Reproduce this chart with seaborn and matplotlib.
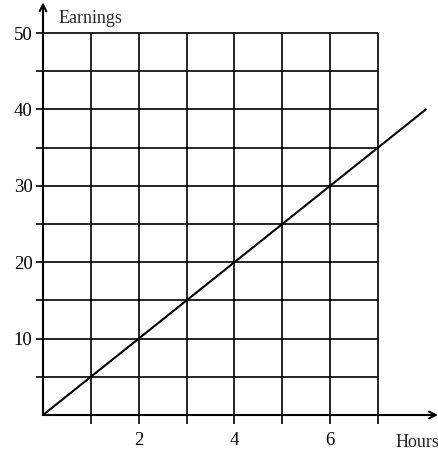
import numpy as np
import pandas as pd
import matplotlib
matplotlib.use("Agg")
import matplotlib.pyplot as plt
import seaborn as sns

# --------------------------------------------------------------
# Data
# --------------------------------------------------------------
hours = [0, 8]
earnings = [0, 40]
x_ticks = [1, 2, 3, 4, 5, 6, 7]
x_labels = ["", "2", "", "4", "", "6", ""]
y_ticks = [5, 10, 15, 20, 25, 30, 35, 40, 45, 50]
y_labels = ["", "10", "", "20", "", "30", "", "40", "", "50"]

line_df = pd.DataFrame({"Hours": hours, "Earnings": earnings})

sns.set_theme(style="white")
plt.rcParams["font.family"] = ["Liberation Serif", "DejaVu Serif"]

fig = plt.figure(figsize=(4.39, 4.50), dpi=100)
ax = fig.add_axes([43 / 439, 35 / 450, 396 / 439, 415 / 450])
ax.set_xlim(0, 396 / 47.86)
ax.set_ylim(0, 415 / 7.64)

# grid box
ax.vlines(x_ticks, 0, max(y_ticks), color="black", lw=1.2)
ax.hlines(y_ticks, 0, max(x_ticks), color="black", lw=1.2)

# earnings line
sns.lineplot(data=line_df, x="Hours", y="Earnings", ax=ax, color="black", lw=1.5)

# axes with arrows
for s in ax.spines.values():
    s.set_visible(False)
ax.annotate("", xy=(396 / 47.86 - 0.02, 0), xytext=(0, 0),
            arrowprops=dict(arrowstyle="->", color="black", lw=1.5,
                            shrinkA=0, shrinkB=0, mutation_scale=12),
            annotation_clip=False)
ax.annotate("", xy=(0, 415 / 7.64 - 0.3), xytext=(0, 0),
            arrowprops=dict(arrowstyle="->", color="black", lw=1.5,
                            shrinkA=0, shrinkB=0, mutation_scale=12),
            annotation_clip=False)

ax.set_xticks(x_ticks, x_labels)
ax.set_yticks(y_ticks, y_labels)
ax.tick_params(axis="x", direction="out", length=6.5, width=1.2, pad=6,
               bottom=True, labelsize=13.5, colors="black")
ax.tick_params(axis="y", direction="out", length=5, width=1.2, pad=2.5,
               left=True, labelsize=13.5, colors="black")
ax.set_xlabel("")
ax.set_ylabel("")

ax.text(0.33, 51.3, "Earnings", fontsize=13, ha="left", va="baseline")
ax.text((396 - 43) / 47.86, -4.2, "Hours", fontsize=13, ha="left",
        va="baseline", clip_on=False)

fig.savefig("out.png", dpi=100)
